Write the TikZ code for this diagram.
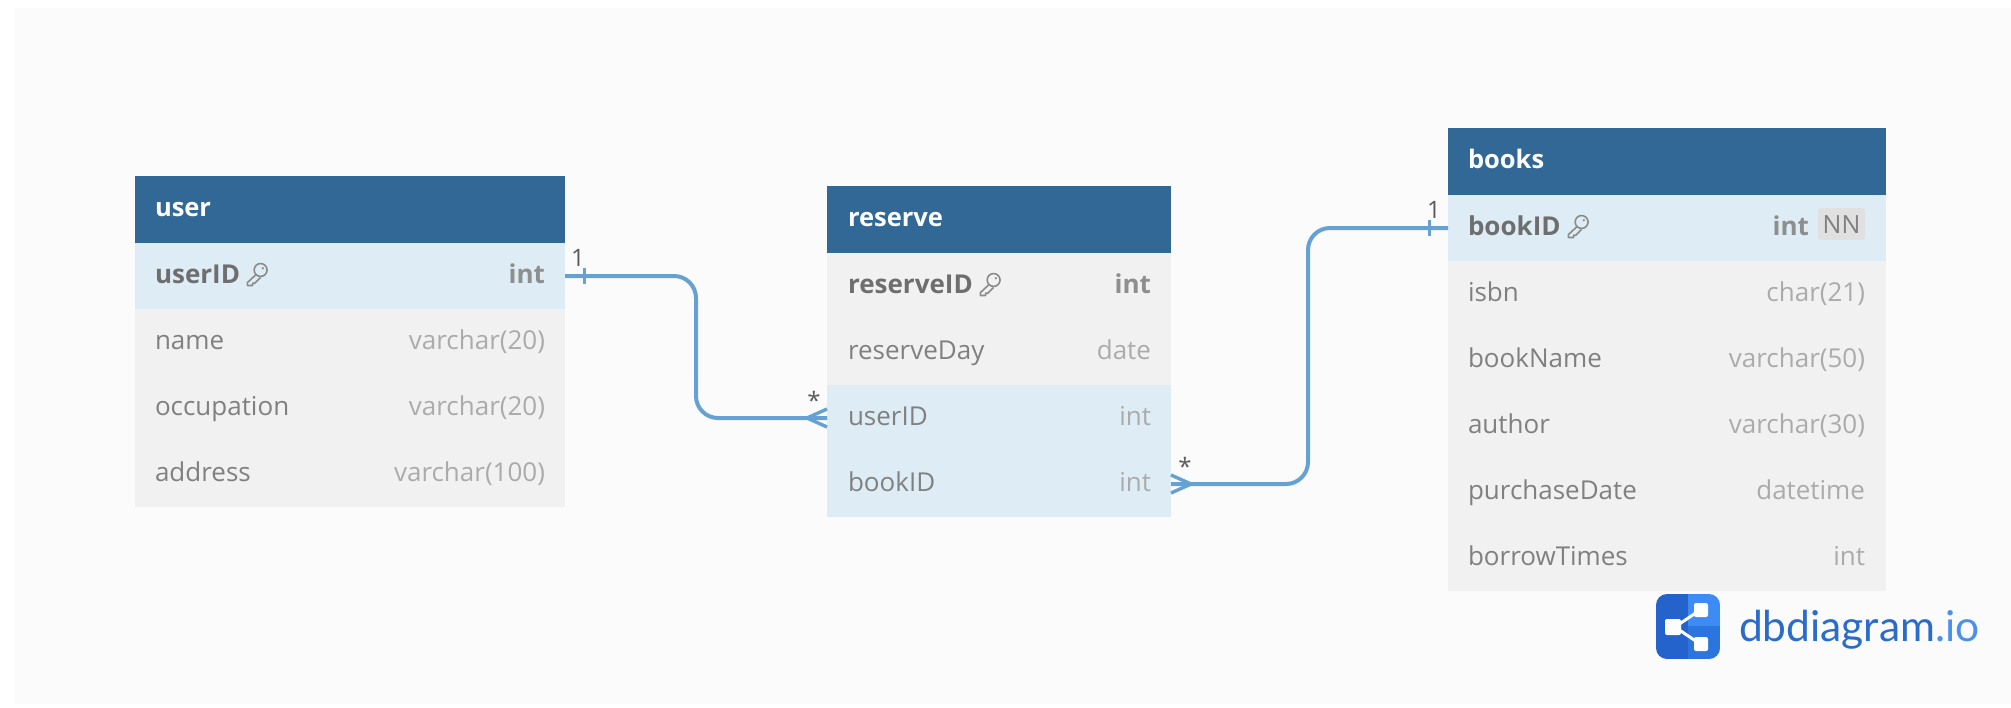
\documentclass[tikz,border=0pt]{standalone}
\usepackage{fontspec}
\setmainfont{Open Sans}
\newfontfamily\logofont{Lato}
\usetikzlibrary{calc}
\definecolor{headc}{HTML}{316896}
\definecolor{rowc}{HTML}{F1F1F1}
\definecolor{hic}{HTML}{DEEDF5}
\definecolor{bgc}{HTML}{FBFBFB}
\definecolor{linec}{HTML}{66A1D4}
\definecolor{namec}{HTML}{808080}
\definecolor{boldc}{HTML}{6E6E6E}
\definecolor{typec}{HTML}{ABABAB}
\definecolor{typebc}{HTML}{8E8E8E}
\definecolor{cardc}{HTML}{5A5A5A}
\definecolor{keyc}{HTML}{8A8A8A}
\definecolor{logod}{HTML}{2462CC}
\definecolor{logom}{HTML}{2B75DC}
\definecolor{logol}{HTML}{3D8BF5}
\definecolor{logot}{HTML}{2A6CCB}
\definecolor{logoio}{HTML}{4A90EC}
\tikzset{
 x=1pt,y=-1pt,
 every node/.style={inner sep=0pt,outer sep=0pt},
 cellbase/.style={rectangle,anchor=north west,minimum height=#1},
 headrow/.style={cellbase=67pt,fill=headc},
 plainrow/.style={cellbase=66pt,fill=rowc},
 hirow/.style={cellbase=66pt,fill=hic},
 headtxt/.style={anchor=base west,text=white,font=\fontsize{25.5}{28}\selectfont\bfseries},
 nametxt/.style={anchor=base west,text=namec,font=\fontsize{26}{28}\selectfont},
 boldname/.style={anchor=base west,text=boldc,font=\fontsize{26}{28}\selectfont\bfseries},
 typetxt/.style={anchor=base east,text=typec,font=\fontsize{26}{28}\selectfont},
 boldtype/.style={anchor=base east,text=typebc,font=\fontsize{26}{28}\selectfont\bfseries},
 cardtxt/.style={anchor=center,text=cardc,font=\fontsize{24}{26}\selectfont},
 conn/.style={draw=linec,line width=4pt,rounded corners=22pt},
 foot/.style={draw=linec,line width=3.4pt},
 tick/.style={draw=linec,line width=3pt},
 keyicon/.pic={
  \begin{scope}[scale=1.15]
  \draw[keyc,line width=1.6pt,line join=round] (4,-3.5) circle (5.6);
  \draw[keyc,line width=1.6pt,line join=round] (0,0.5) -- (-7.5,7.5) -- (-7.5,10) -- (-3,10) -- (-3,8) -- (-1,8) -- (4,3);
  \fill[keyc] (6,-5) circle (1.1);
  \end{scope}
 },
}
\begin{document}
\begin{tikzpicture}
\useasboundingbox (0,0) rectangle (2011,707);
\fill[white] (0,0) rectangle (2011,707);
\fill[bgc] (15,8) rectangle (2011,704);
% user
\node[headrow,minimum width=430pt] (userH) at (135,176) {};
\node[hirow,minimum width=430pt] (userR1) at (135,243) {};
\node[plainrow,minimum width=430pt] (userR2) at (135,309) {};
\node[plainrow,minimum width=430pt] (userR3) at (135,375) {};
\node[plainrow,minimum width=430pt] (userR4) at (135,441) {};
\node[headtxt] (userT) at (155,216) {user};
\node[boldname] (userN1) at (155,283) {userID};
\node[nametxt] (userN2) at (155,349) {name};
\node[nametxt] (userN3) at (155,415) {occupation};
\node[nametxt] (userN4) at (155,481) {address};
\node[boldtype] (userY1) at (545,283) {int};
\node[typetxt] (userY2) at (545,349) {varchar(20)};
\node[typetxt] (userY3) at (545,415) {varchar(20)};
\node[typetxt] (userY4) at (545,481) {varchar(100)};
\pic at (256,274) {keyicon};
% reserve
\node[headrow,minimum width=344pt] (resH) at (827,186) {};
\node[plainrow,minimum width=344pt] (resR1) at (827,253) {};
\node[plainrow,minimum width=344pt] (resR2) at (827,319) {};
\node[hirow,minimum width=344pt] (resR3) at (827,385) {};
\node[hirow,minimum width=344pt] (resR4) at (827,451) {};
\node[headtxt] (resT) at (848,226) {reserve};
\node[boldname] (resN1) at (848,293) {reserveID};
\node[nametxt] (resN2) at (848,359) {reserveDay};
\node[nametxt] (resN3) at (848,425) {userID};
\node[nametxt] (resN4) at (848,491) {bookID};
\node[boldtype] (resY1) at (1151,293) {int};
\node[typetxt] (resY2) at (1151,359) {date};
\node[typetxt] (resY3) at (1151,425) {int};
\node[typetxt] (resY4) at (1151,491) {int};
\pic at (989,284) {keyicon};
% books
\node[headrow,minimum width=438pt] (bookH) at (1448,128) {};
\node[hirow,minimum width=438pt] (bookR1) at (1448,195) {};
\node[plainrow,minimum width=438pt] (bookR2) at (1448,261) {};
\node[plainrow,minimum width=438pt] (bookR3) at (1448,327) {};
\node[plainrow,minimum width=438pt] (bookR4) at (1448,393) {};
\node[plainrow,minimum width=438pt] (bookR5) at (1448,459) {};
\node[plainrow,minimum width=438pt] (bookR6) at (1448,525) {};
\node[headtxt] (bookT) at (1468,168) {books};
\node[boldname] (bookN1) at (1468,235) {bookID};
\node[nametxt] (bookN2) at (1468,301) {isbn};
\node[nametxt] (bookN3) at (1468,367) {bookName};
\node[nametxt] (bookN4) at (1468,433) {author};
\node[nametxt] (bookN5) at (1468,499) {purchaseDate};
\node[nametxt] (bookN6) at (1468,565) {borrowTimes};
\node[rectangle,rounded corners=3pt,fill=black!12,minimum width=47pt,minimum height=32pt,anchor=center] (nnB) at (1841.5,224) {};
\node[anchor=base,text=namec,font=\fontsize{25}{28}\selectfont] (nnT) at (1841.5,233) {NN};
\node[boldtype] (bookY1) at (1809,235) {int};
\node[typetxt] (bookY2) at (1865,301) {char(21)};
\node[typetxt] (bookY3) at (1865,367) {varchar(50)};
\node[typetxt] (bookY4) at (1865,433) {varchar(30)};
\node[typetxt] (bookY5) at (1865,499) {datetime};
\node[typetxt] (bookY6) at (1865,565) {int};
\pic at (1577,226) {keyicon};
% connectors
\draw[conn] (userR1.east) -- (696,276) -- (696,418) -- (resR3.west |- 0,418);
\draw[conn] (resR4.east |- 0,484) -- (1308,484) -- (1308,228) -- (bookR1.west |- 0,228);
% ends
\draw[foot] (resR3.west |- 0,409) -- (807,418) -- (resR3.west |- 0,427);
\draw[foot] (resR4.east |- 0,475) -- (1191,484) -- (resR4.east |- 0,493);
\draw[tick] (584,268) -- (584,284);
\draw[tick] (1429,220) -- (1429,236);
\node[cardtxt] (card1) at (578,258) {1};
\node[cardtxt] (card2) at (814,400) {*};
\node[cardtxt] (card3) at (1185,466) {*};
\node[cardtxt] (card4) at (1434,210) {1};
% logo
\begin{scope}
\clip[rounded corners=11pt] (1656,594) rectangle (1720,659);
\fill[logod] (1656,594) rectangle (1688,659);
\fill[logol] (1688,594) rectangle (1720,626);
\fill[logom] (1688,626) rectangle (1720,659);
\end{scope}
\draw[white,line width=3pt] (1675,627) -- (1700,610);
\draw[white,line width=3pt] (1675,627) -- (1700,644);
\fill[white,rounded corners=2pt] (1665,619) rectangle (1681,635);
\fill[white,rounded corners=2pt] (1694,603) rectangle (1708,617);
\fill[white,rounded corners=2pt] (1694,637) rectangle (1708,651);
\node[anchor=base west,font=\logofont\fontsize{42.5}{46}\selectfont,text=logot] (logoT) at (1739,641) {dbdiagram\textcolor{logoio}{.io}};
\end{tikzpicture}
\end{document}
